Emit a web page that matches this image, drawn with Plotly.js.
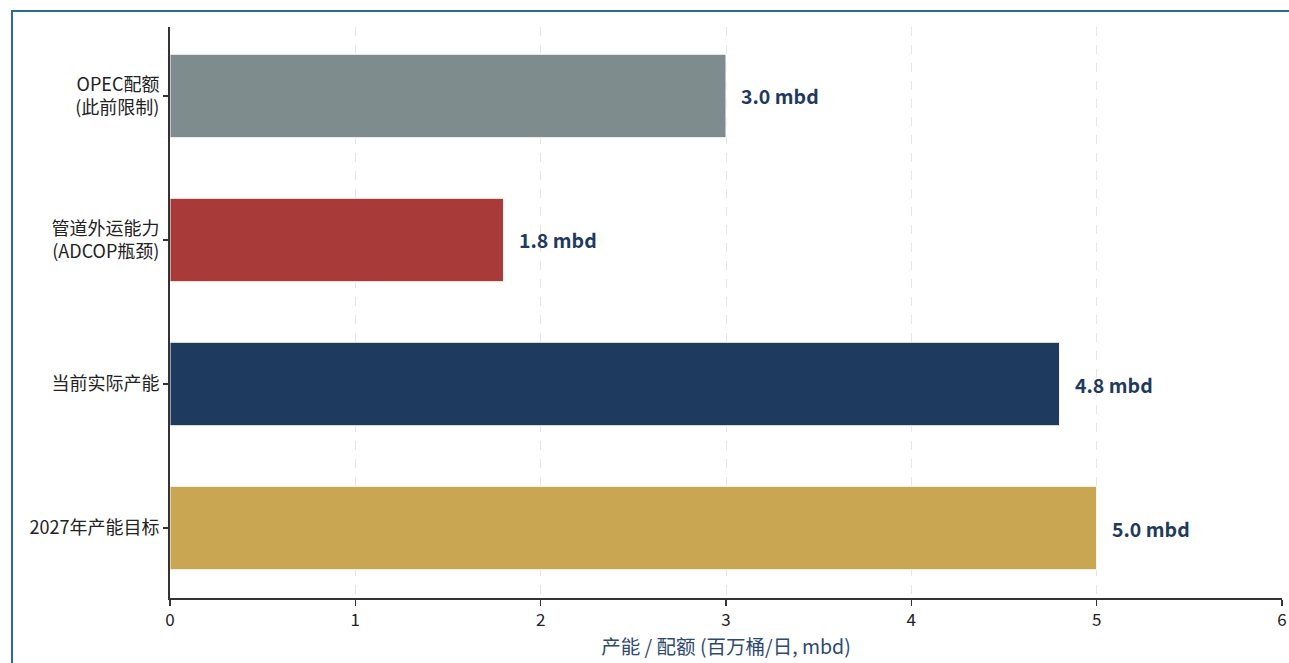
<!DOCTYPE html>
<html>
<head>
<meta charset="utf-8">
<script src="https://cdn.plot.ly/plotly-3.0.1.min.js"></script>
<style>
  html, body { margin: 0; padding: 0; overflow: hidden; background: #fff; width: 1289px; height: 663px; }
  #frame { position: absolute; left: 11px; top: 10px; width: 1400px; height: 800px; border: 2px solid #2a6a96; box-sizing: border-box; }
  #chart { position: absolute; left: 0; top: 0; width: 1289px; height: 663px; }
</style>
</head>
<body>
<div id="frame"></div>
<div id="chart"></div>
<script>
const categories = ["2027年产能目标", "当前实际产能", "管道外运能力<br>(ADCOP瓶颈)", "OPEC配额<br>(此前限制)"];
const values = [5.0, 4.8, 1.8, 3.0];
const barColors = ["#c9a752", "#1f3a5f", "#a83a3a", "#7f8c8d"];
const valueLabels = values.map(v => v.toFixed(1) + " mbd");
const xTickVals = [0, 1, 2, 3, 4, 5, 6];

const FONT = '"Noto Sans CJK SC", "Noto Sans", sans-serif';

const trace = {
  type: "bar",
  orientation: "h",
  y: categories,
  x: values,
  marker: { color: barColors, line: { color: "#ffffff", width: 1 } },
  hoverinfo: "skip"
};

const annotations = values.map((v, i) => ({
  x: v, y: categories[i], xref: "x", yref: "y",
  text: valueLabels[i], showarrow: false,
  xanchor: "left", yanchor: "middle", xshift: 13,
  font: { family: FONT, size: 19.5, color: "#1f3a5f", weight: 700 }
}));

const layout = {
  width: 1289, height: 663,
  margin: { l: 170, r: 7, t: 27, b: 65 },
  paper_bgcolor: "rgba(0,0,0,0)",
  plot_bgcolor: "rgba(0,0,0,0)",
  showlegend: false,
  bargap: 0.42,
  font: { family: FONT, size: 18, color: "#222" },
  xaxis: {
    range: [0, 6],
    tickvals: xTickVals,
    showline: true, linecolor: "#333", linewidth: 2,
    ticks: "outside", ticklen: 6, tickcolor: "#333", tickwidth: 1.5,
    showgrid: true, gridcolor: "#e6e6e6", griddash: "dash", gridwidth: 1,
    zeroline: false,
    tickfont: { family: FONT, size: 17, color: "#222" },
    title: { text: "产能 / 配额 (百万桶/日, mbd)", font: { family: FONT, size: 19.5, color: "#2c4a6e" }, standoff: 6 }
  },
  yaxis: {
    type: "category",
    range: [-0.486, 3.479],
    showline: true, linecolor: "#333", linewidth: 2,
    ticks: "outside", ticklen: 5, tickcolor: "#333", tickwidth: 1.5,
    showgrid: false, zeroline: false,
    tickfont: { family: FONT, size: 18, color: "#222" }
  },
  annotations: annotations
};

Plotly.newPlot("chart", [trace], layout, { displayModeBar: false, staticPlot: true });
</script>
</body>
</html>
